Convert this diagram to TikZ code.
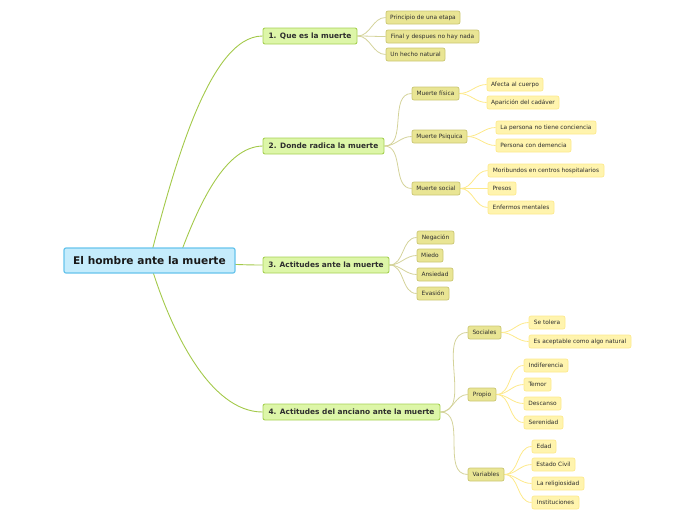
\documentclass[tikz,border=0pt]{standalone}
\usepackage{fontspec}
\setmainfont{DejaVu Sans}
\usetikzlibrary{backgrounds}
\definecolor{rootfill}{HTML}{C5ECFC}
\definecolor{rootdraw}{HTML}{67C4EC}
\definecolor{mainfill}{HTML}{DDF6A8}
\definecolor{maindraw}{HTML}{A7D154}
\definecolor{subfill}{HTML}{E9E594}
\definecolor{subdraw}{HTML}{CBC773}
\definecolor{leaffill}{HTML}{FFF4AE}
\definecolor{leafdraw}{HTML}{FDE98E}
\definecolor{conA}{HTML}{A3C94A}
\definecolor{conB}{HTML}{D4D39A}
\definecolor{conC}{HTML}{FDE98A}
\definecolor{txt}{HTML}{2E2E2E}
\tikzset{
  box/.style={draw, rounded corners=2pt, inner sep=0pt, align=center, text=txt},
  rootbox/.style={box, fill=rootfill, draw=rootdraw, line width=1.2pt, minimum height=25pt,
     font=\fontsize{10.6}{12}\selectfont\bfseries, text=black!90},
  mainbox/.style={box, fill=mainfill, draw=maindraw, line width=0.9pt, minimum height=16pt,
     font=\fontsize{7.4}{8}\selectfont\bfseries},
  subbox/.style={box, fill=subfill, draw=subdraw, line width=0.7pt, minimum height=13pt,
     font=\fontsize{5.85}{6}\selectfont},
  leafbox/.style={box, fill=leaffill, draw=leafdraw, line width=0.7pt, minimum height=13pt,
     font=\fontsize{5.85}{6}\selectfont},
  cA/.style={draw=conA, line width=0.9pt},
  cB/.style={draw=conB, line width=0.8pt},
  cC/.style={draw=conC, line width=0.8pt},
}
\begin{document}
\begin{tikzpicture}[x=1pt,y=-1pt]
\useasboundingbox (0,0) rectangle (696,520);
\node[rootbox, minimum width=171pt] (r) at (149.5,260.5) {El hombre ante la muerte};

\node[mainbox, minimum width=94pt] (m1) at (310,36) {1. Que es la muerte};
\node[mainbox, minimum width=121pt] (m2) at (323.5,146) {2. Donde radica la muerte};
\node[mainbox, minimum width=126pt] (m3) at (326,265) {3. Actitudes ante la muerte};
\node[mainbox, minimum width=177pt] (m4) at (351.5,412) {4. Actitudes del anciano ante la muerte};

% branch 1
\node[subbox, minimum width=74pt] (a1) at (423,17.5) {Principio de una etapa};
\node[subbox, minimum width=93pt] (a2) at (432.5,36.5) {Final y despues no hay nada};
\node[subbox, minimum width=59pt] (a3) at (415.5,54.5) {Un hecho natural};

% branch 2
\node[subbox, minimum width=47pt] (b1) at (435.5,93.5) {Muerte física};
\node[subbox, minimum width=55pt] (b2) at (439.5,136.5) {Muerte Psiquica};
\node[subbox, minimum width=48pt] (b3) at (436,188.5) {Muerte social};
\node[leafbox, minimum width=56pt] (b11) at (515,84.5) {Afecta al cuerpo};
\node[leafbox, minimum width=72pt] (b12) at (523,102.5) {Aparición del cadáver};
\node[leafbox, minimum width=100pt] (b21) at (546,127.5) {La persona no tiene conciencia};
\node[leafbox, minimum width=75pt] (b22) at (533.5,145.5) {Persona con demencia};
\node[leafbox, minimum width=116pt] (b31) at (546,170.5) {Moribundos en centros hospitalarios};
\node[leafbox, minimum width=28pt] (b32) at (502,188.5) {Presos};
\node[leafbox, minimum width=66pt] (b33) at (521,207.5) {Enfermos mentales};

% branch 3
\node[subbox, minimum width=37pt] (c1) at (435.5,237.5) {Negación};
\node[subbox, minimum width=26pt] (c2) at (430,255.5) {Miedo};
\node[subbox, minimum width=36pt] (c3) at (435,274.5) {Ansiedad};
\node[subbox, minimum width=32pt] (c4) at (433,293.5) {Evasión};

% branch 4
\node[subbox, minimum width=33pt] (d1) at (484.5,332.5) {Sociales};
\node[subbox, minimum width=28pt] (d2) at (482,394.5) {Propio};
\node[subbox, minimum width=36pt] (d3) at (486,474.5) {Variables};
\node[leafbox, minimum width=36pt] (d11) at (547,322.5) {Se tolera};
\node[leafbox, minimum width=102pt] (d12) at (580,341.5) {Es aceptable como algo natural};
\node[leafbox, minimum width=44pt] (d21) at (546,365.5) {Indiferencia};
\node[leafbox, minimum width=27pt] (d22) at (537.5,384.5) {Temor};
\node[leafbox, minimum width=37pt] (d23) at (542.5,403.5) {Descanso};
\node[leafbox, minimum width=39pt] (d24) at (543.5,422.5) {Serenidad};
\node[leafbox, minimum width=24pt] (d31) at (544,446.5) {Edad};
\node[leafbox, minimum width=43pt] (d32) at (553.5,464.5) {Estado Civil};
\node[leafbox, minimum width=52pt] (d33) at (558,483.5) {La religiosidad};
\node[leafbox, minimum width=47pt] (d34) at (555.5,502.5) {Instituciones};

\begin{scope}[on background layer]
\coordinate (r2) at (178,260.5);
\draw[cA] (r.center) .. controls (172,175) and (208,36) .. (m1.west);
\draw[cA] (r2) .. controls (200,200) and (226,147) .. (m2.west);
\draw[cA] (r.center) to[out=0,in=180] (m3.west);
\draw[cA] (r.center) .. controls (170,330) and (210,412) .. (m4.west);

\foreach \p/\c in {m1/a1,m1/a2,m1/a3,m2/b1,m2/b2,m2/b3,m3/c1,m3/c2,m3/c3,m3/c4,m4/d1,m4/d2,m4/d3}
  \draw[cB] (\p.east) to[out=0,in=180] (\c.west);
\foreach \p/\c in {b1/b11,b1/b12,b2/b21,b2/b22,b3/b31,b3/b32,b3/b33,d1/d11,d1/d12,d2/d21,d2/d22,d2/d23,d2/d24,d3/d31,d3/d32,d3/d33,d3/d34}
  \draw[cC] (\p.east) to[out=0,in=180] (\c.west);
\end{scope}
\end{tikzpicture}
\end{document}
